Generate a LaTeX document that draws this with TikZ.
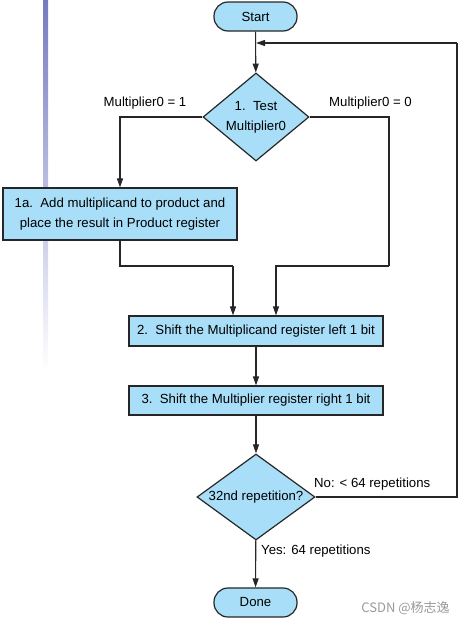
\documentclass[tikz,border=0pt]{standalone}
\usepackage{fontspec}
\setmainfont{Liberation Sans}
\newfontfamily\cjk{Noto Sans CJK SC}
\usetikzlibrary{shapes.geometric,arrows.meta}
\definecolor{boxblue}{RGB}{168,222,248}
\definecolor{barblue}{RGB}{118,122,192}
\begin{document}
\begin{tikzpicture}[x=1pt, y=-1pt,
  every node/.style={font=\fontsize{13.2}{20}\selectfont, inner sep=1pt},
  terminal/.style={draw=black!85, fill=boxblue, line width=1.2pt, rectangle,
    rounded corners=14pt, minimum width=83pt, minimum height=29pt},
  process/.style={draw=black!85, fill=boxblue, line width=1.2pt, rectangle,
    align=center, minimum height=29pt},
  decision/.style={draw=black!85, fill=boxblue, line width=1.2pt, diamond,
    aspect=1.4, align=center, inner sep=0pt},
  arrow/.style={-{Triangle[length=9pt,width=6pt]}, line width=1.1pt, draw=black!85},
  line/.style={line width=1.1pt, draw=black!85}]
  \useasboundingbox (0,0) rectangle (471,624);
  % slide bar on the left
  \shade[top color=barblue, bottom color=white] (43,0) rectangle (48,370);
  % nodes
  \node[terminal] (start) at (255.5,16.5) {Start};
  \node[decision, minimum width=106pt, minimum height=88pt] (test) at (256,117)
    {1.\ \ Test\\Multiplier0};
  \node[process, minimum width=234pt, minimum height=52pt] (addbox) at (120,214)
    {1a.\ \ Add multiplicand to product and\\place the result in Product register};
  \node[process, minimum width=254pt, minimum height=30pt] (shiftmd) at (256,331)
    {2.\ \ Shift the Multiplicand register left 1 bit};
  \node[process, minimum width=254pt] (shiftmr) at (256,400.5)
    {3.\ \ Shift the Multiplier register right 1 bit};
  \node[decision, minimum width=118pt, minimum height=86pt] (repeat) at (256,497)
    {32nd repetition?};
  \node[terminal] (done) at (255.5,602.5) {Done};
  % labels
  \node (yes1) at (145,103) {Multiplier0 = 1};
  \node (no1) at (370.5,103) {Multiplier0 = 0};
  \node[anchor=west] (norep) at (313,484) {No: < 64 repetitions};
  \node[anchor=west] (yesrep) at (260,551) {Yes: 64 repetitions};
  \node[text=black!40, font=\cjk\fontsize{13}{15}\selectfont] (mark) at (405.5,608)
    {CSDN @杨志逸};
  % helper points
  \coordinate (join) at (256,43);
  \coordinate (loop) at (457,43);
  \coordinate (lmerge) at (233,266);
  \coordinate (rmerge) at (389,266);
  % connectors
  \draw[arrow] (start) -- (test);
  \draw[arrow] (test.west) -| (addbox.north);
  \draw[line] (test.east) -| (rmerge);
  \draw[arrow] (rmerge) -| ([xshift=20pt]shiftmd.north);
  \draw[line] (addbox.south) |- (lmerge);
  \draw[arrow] (lmerge) -- ([xshift=-23pt]shiftmd.north);
  \draw[arrow] (shiftmd) -- (shiftmr);
  \draw[arrow] (shiftmr) -- (repeat);
  \draw[arrow] (repeat) -- (done);
  \draw[line] (repeat.east) -| (loop);
  \draw[arrow] (loop) -- (join);
\end{tikzpicture}
\end{document}
